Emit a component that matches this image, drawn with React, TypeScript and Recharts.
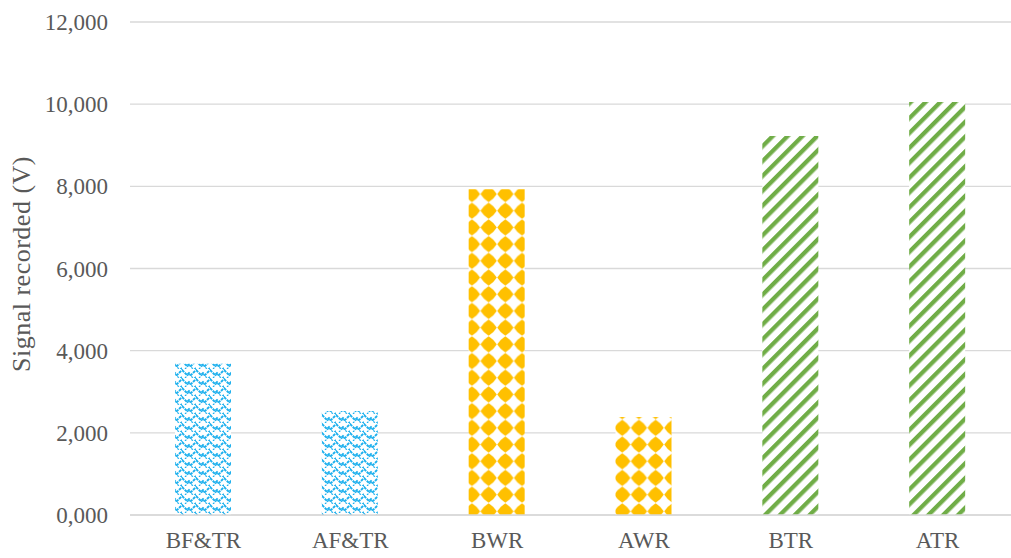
import { BarChart, Bar, XAxis, YAxis, CartesianGrid, Cell } from "recharts";

const categories = ["BF&TR", "AF&TR", "BWR", "AWR", "BTR", "ATR"];
const signalValues = [3680, 2530, 7930, 2385, 9225, 10050];
const yTicks = [0, 2000, 4000, 6000, 8000, 10000, 12000];
const barFills = [
  "url(#weaveBlue)",
  "url(#weaveBlue)",
  "url(#diamondGold)",
  "url(#diamondGold)",
  "url(#stripeGreen)",
  "url(#stripeGreen)",
];

const data = categories.map((name, i) => ({ name, signal: signalValues[i] }));

const TEXT = "#595959";
const FONT = "'Liberation Serif', 'Times New Roman', serif";

const formatTick = (v: number) => `${v / 1000},000`;

export default function App() {
  return (
    <div style={{ position: "fixed", left: 0, top: 0, background: "#fff" }}>
      <BarChart
        width={1011}
        height={558}
        data={data}
        margin={{ top: 22, right: 0, bottom: 0, left: 0 }}
        barSize={56}
      >
        <defs>
          <pattern id="weaveBlue" width="14" height="9" patternUnits="userSpaceOnUse">
            <rect width="14" height="9" fill="#fff" />
            <path
              d="M0,1 L5,6 L7,4 L9,6 L14,1 M-2,8 L0,10 M12,10 L14,8 M0,1 L-2,-1 M14,1 L16,-1"
              fill="none"
              stroke="#1cb0ee"
              strokeWidth={1.9}
              strokeDasharray="3 0.9"
            />
            <path d="M3,9 L7,5 L11,9" fill="none" stroke="#1cb0ee" strokeWidth={1.2} strokeDasharray="2 1" />
          </pattern>
          <pattern id="diamondGold" x="-4" y="2" width="16.7" height="16.7" patternUnits="userSpaceOnUse">
            <rect width="16.7" height="16.7" fill="#fff" />
            <path
              d="M8.35,0.2 Q13.4,3.3 16.5,8.35 Q13.4,13.4 8.35,16.5 Q3.3,13.4 0.2,8.35 Q3.3,3.3 8.35,0.2 Z"
              fill="#ffc000"
            />
          </pattern>
          <pattern
            id="stripeGreen"
            width="10.5"
            height="10.5"
            patternUnits="userSpaceOnUse"
            patternTransform="rotate(45)"
          >
            <rect width="10.5" height="10.5" fill="#fff" />
            <rect width="4.3" height="10.5" fill="#70ad47" />
          </pattern>
        </defs>
        <CartesianGrid vertical={false} stroke="#d9d9d9" strokeWidth={1.3} />
        <XAxis
          dataKey="name"
          axisLine={{ stroke: "#d9d9d9", strokeWidth: 1.3 }}
          tickLine={false}
          tickMargin={11}
          height={43}
          interval={0}
          tick={{ fill: TEXT, fontSize: 23, fontFamily: FONT }}
        />
        <YAxis
          width={130}
          domain={[0, 12000]}
          ticks={yTicks}
          tickFormatter={formatTick}
          axisLine={false}
          tickLine={false}
          tickMargin={16}
          tick={{ fill: TEXT, fontSize: 23, fontFamily: FONT }}
          label={{
            content: () => (
              <text
                x={21}
                y={264}
                transform="rotate(-90, 21, 264)"
                textAnchor="middle"
                dominantBaseline="central"
                fill={TEXT}
                fontSize={26}
                letterSpacing={0.5}
                fontFamily={FONT}
              >
                Signal recorded (V)
              </text>
            ),
          }}
        />
        <Bar dataKey="signal" isAnimationActive={false}>
          {data.map((d, i) => (
            <Cell key={d.name} fill={barFills[i]} />
          ))}
        </Bar>
      </BarChart>
    </div>
  );
}
